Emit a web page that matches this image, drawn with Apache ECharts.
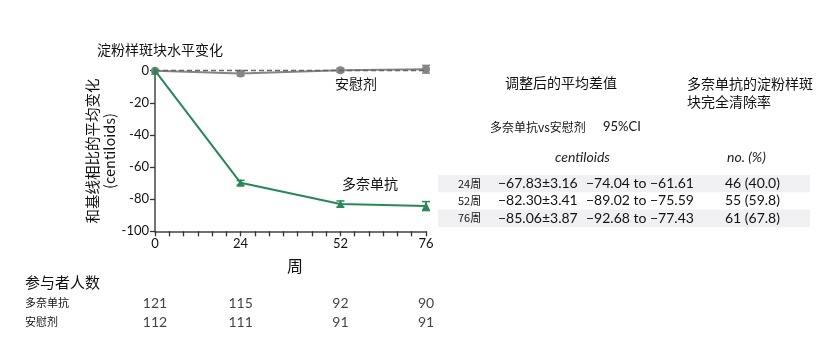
<!DOCTYPE html>
<html><head><meta charset="utf-8">
<script src="https://cdn.jsdelivr.net/npm/echarts@6/dist/echarts.min.js"></script>
<style>html,body{margin:0;padding:0;background:#fff}#c{width:832px;height:360px}</style>
</head><body><div id="c"></div>
<script>
var weeks = [0, 24, 52, 76];
var donaMean = [0, -69.8, -83.0, -84.3];
var donaErr = [0, 1.5, 1.9, 2.8];
var placMean = [0, -1.8, 0.3, 0.9];
var placErr = [0, 1.4, 1.2, 2.4];
var xTickLabels = [0, 24, 52, 76];
var countRows = ['多奈单抗', '安慰剂'];
var donaCounts = [121, 115, 92, 90];
var placCounts = [112, 111, 91, 91];
var tableWeeks = ['24周', '52周', '76周'];
var tableDiff = ['\u221267.83\u00b13.16', '\u221282.30\u00b13.41', '\u221285.06\u00b13.87'];
var tableCI = ['\u221274.04 to \u221261.61', '\u221289.02 to \u221275.59', '\u221292.68 to \u221277.43'];
var tableClear = ['46 (40.0)', '55 (59.8)', '61 (67.8)'];

var GREEN = '#238a55', GRAY = '#858585';
var CJK = '"Noto Sans CJK SC", sans-serif';
var NUM = 'Lato, "Noto Sans", sans-serif';

function errSeries(mean, err, color) {
  return {
    type: 'custom', xAxisIndex: 0, yAxisIndex: 0, clip: false, z: 3,
    data: weeks.map(function (w, i) { return [w, mean[i], err[i]]; }),
    renderItem: function (params, api) {
      var x = api.value(0), m = api.value(1), e = api.value(2);
      if (!e) return null;
      var t = api.coord([x, m + e]), b = api.coord([x, m - e]), w = 4;
      var st = { stroke: color, lineWidth: 1.5 };
      return { type: 'group', children: [
        { type: 'line', shape: { x1: t[0], y1: t[1], x2: b[0], y2: b[1] }, style: st },
        { type: 'line', shape: { x1: t[0] - w, y1: t[1], x2: t[0] + w, y2: t[1] }, style: st },
        { type: 'line', shape: { x1: b[0] - w, y1: b[1], x2: b[0] + w, y2: b[1] }, style: st }
      ] };
    }
  };
}

var graphics = [
  { type: 'text', left: 97, top: 43, style: { text: '淀粉样斑块水平变化', font: '14px ' + CJK, fill: '#111' } },
  { type: 'text', left: 335, top: 77, style: { text: '安慰剂', font: '14px ' + CJK, fill: '#111' } },
  { type: 'text', left: 342, top: 177, style: { text: '多奈单抗', font: '14px ' + CJK, fill: '#111' } },
  { type: 'text', left: 287, top: 258, style: { text: '周', font: '16px ' + CJK, fill: '#111' } },
  { type: 'text', left: 25, top: 275, style: { text: '参与者人数', font: '15px ' + CJK, fill: '#111' } },
  { type: 'text', left: 505, top: 76, style: { text: '调整后的平均差值', font: '14px ' + CJK, fill: '#111' } },
  { type: 'text', left: 687, top: 75, style: { text: '多奈单抗的淀粉样斑\n块完全清除率', font: '14px ' + CJK, fill: '#111', lineHeight: 18 } },
  { type: 'text', left: 490, top: 121, style: { text: '多奈单抗vs安慰剂', font: '12px ' + CJK, fill: '#111' } },
  { type: 'text', left: 603, top: 120, style: { text: '95%CI', font: '13px ' + NUM, fill: '#111' } },
  { type: 'text', left: 555, top: 150, style: { text: 'centiloids', font: 'italic 14px ' + NUM, fill: '#222' } },
  { type: 'text', left: 727, top: 150, style: { text: 'no. (%)', font: 'italic 14px ' + NUM, fill: '#222' } }
];
var rowTop = 175, rowH = 17.3;
tableWeeks.forEach(function (wk, i) {
  var y = rowTop + i * rowH;
  if (i % 2 === 0) graphics.push({ type: 'rect', shape: { x: 438, y: y, width: 372, height: rowH }, style: { fill: '#f0f0f2' }, z: -1 });
  var cy = y + rowH / 2;
  graphics.push({ type: 'text', x: 458, y: cy, style: { text: wk, font: '11px ' + CJK, fill: '#111', verticalAlign: 'middle' } });
  graphics.push({ type: 'text', x: 498, y: cy, style: { text: tableDiff[i], font: '14px ' + NUM, fill: '#111', verticalAlign: 'middle' } });
  graphics.push({ type: 'text', x: 586, y: cy, style: { text: tableCI[i], font: '14px ' + NUM, fill: '#111', verticalAlign: 'middle' } });
  graphics.push({ type: 'text', x: 725, y: cy, style: { text: tableClear[i], font: '14px ' + NUM, fill: '#111', verticalAlign: 'middle' } });
});

var chart = echarts.init(document.getElementById('c'), null, { renderer: 'canvas' });
chart.setOption({
  animation: false,
  grid: [
    { left: 155, width: 271, top: 70.7, height: 160.6 },
    { left: 155, width: 271, top: 293.5, height: 38 }
  ],
  xAxis: [
    { type: 'value', gridIndex: 0, min: 0, max: 76, interval: 4, position: 'bottom',
      axisLine: { show: true, onZero: false, lineStyle: { color: '#444', width: 1.5 } },
      axisTick: { show: true, length: 5, lineStyle: { color: '#333', width: 1.3 } },
      splitLine: { show: false },
      axisLabel: { color: '#111', fontSize: 13, fontFamily: NUM, margin: 6,
        formatter: function (v) { return xTickLabels.indexOf(v) >= 0 ? String(v) : ''; } } },
    { type: 'value', gridIndex: 1, min: 0, max: 76, show: false }
  ],
  yAxis: [
    { type: 'value', gridIndex: 0, min: -100, max: 0, interval: 20,
      axisLine: { show: true, onZero: false, lineStyle: { color: '#444', width: 1.5 } },
      axisTick: { show: true, length: 5, lineStyle: { color: '#333', width: 1.3 } },
      splitLine: { show: false },
      axisLabel: { color: '#111', fontSize: 13, fontFamily: NUM, margin: 6 },
      name: '和基线相比的平均变化\n(centiloids)', nameLocation: 'middle', nameRotate: 90, nameGap: 37,
      nameTextStyle: { fontSize: 14.5, fontFamily: CJK, color: '#111', lineHeight: 17 } },
    { type: 'category', gridIndex: 1, data: countRows, inverse: true,
      axisLine: { show: false }, axisTick: { show: false },
      axisLabel: { align: 'left', margin: 130, fontSize: 11, fontFamily: CJK, color: '#111' } }
  ],
  series: [
    { type: 'line', name: '安慰剂', data: weeks.map(function (w, i) { return [w, placMean[i]]; }),
      xAxisIndex: 0, yAxisIndex: 0, clip: false, z: 2,
      symbol: 'circle', symbolSize: 8, itemStyle: { color: GRAY }, lineStyle: { color: GRAY, width: 2 },
      markLine: { silent: true, symbol: ['none', 'none'], label: { show: false },
        lineStyle: { color: '#666', type: [5, 3], width: 1.3 }, data: [{ yAxis: 0 }] } },
    errSeries(placMean, placErr, GRAY),
    { type: 'line', name: '多奈单抗', data: weeks.map(function (w, i) { return [w, donaMean[i]]; }),
      xAxisIndex: 0, yAxisIndex: 0, clip: false, z: 4,
      symbol: 'triangle', symbolSize: 8, itemStyle: { color: GREEN }, lineStyle: { color: GREEN, width: 2 } },
    errSeries(donaMean, donaErr, GREEN),
    { type: 'scatter', xAxisIndex: 1, yAxisIndex: 1, symbolSize: 0,
      data: weeks.map(function (w, i) { return [w, countRows[0], donaCounts[i]]; }),
      label: { show: true, position: 'inside', formatter: function (p) { return p.value[2]; }, color: '#111', fontSize: 14, fontFamily: NUM } },
    { type: 'scatter', xAxisIndex: 1, yAxisIndex: 1, symbolSize: 0,
      data: weeks.map(function (w, i) { return [w, countRows[1], placCounts[i]]; }),
      label: { show: true, position: 'inside', formatter: function (p) { return p.value[2]; }, color: '#111', fontSize: 14, fontFamily: NUM } }
  ],
  graphic: graphics
});
</script></body></html>
